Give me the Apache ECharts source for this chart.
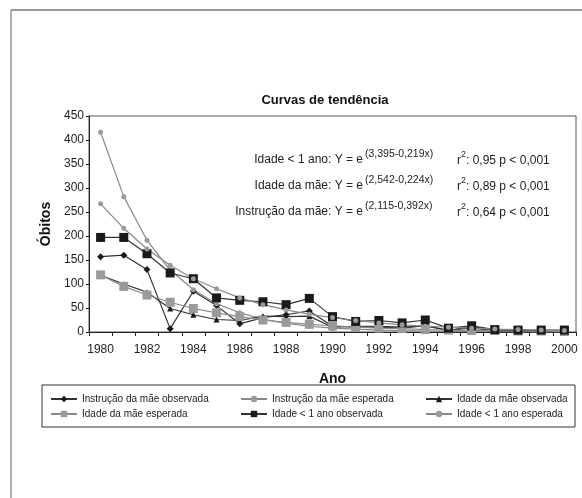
<!DOCTYPE html>
<html>
<head>
<meta charset="utf-8">
<script src="https://cdn.jsdelivr.net/npm/echarts@6/dist/echarts.min.js"></script>
<style>
  html, body { margin: 0; padding: 0; background: #fff; }
  #chart { width: 582px; height: 498px; }
</style>
</head>
<body>
<div id="chart"></div>
<script>
const anos = ["1980", "1981", "1982", "1983", "1984", "1985", "1986", "1987", "1988", "1989", "1990",
  "1991", "1992", "1993", "1994", "1995", "1996", "1997", "1998", "1999", "2000"]

const instrucaoObservada = [157, 160, 130, 7, 85, 55, 17, 30, 36, 44, 12, 10, 10, 8, 14, 3, 12, 3, 2, 2, 2]
const instrucaoEsperada = [416, 282, 191, 129, 88, 59, 40, 27, 18, 12, 8, 6, 4, 3, 2, 1, 1, 1, 0, 0, 0]
const idadeMaeObservada = [118, 100, 83, 49, 36, 26, 24, 33, 32, 33, 10, 12, 12, 10, 12, 4, 8, 3, 2, 2, 2]
const idadeMaeEsperada = [119, 95, 77, 62, 49, 40, 32, 25, 20, 16, 13, 10, 8, 7, 5, 4, 3, 3, 2, 2, 1]
const idadeAnoObservada = [197, 197, 163, 123, 111, 71, 66, 63, 57, 70, 32, 22, 24, 19, 25, 8, 13, 5, 4, 4, 4]
const idadeAnoEsperada = [267, 216, 173, 139, 111, 90, 71, 57, 46, 37, 30, 24, 19, 15, 12, 10, 8, 6, 5, 4, 3]

const yTicks = { min: 0, max: 450, interval: 50 }

const font = "'Liberation Sans', Arial, sans-serif"
const escuro = "#1a1a1a"
const cinza = "#9a9a9a"

const serie = (name, data, symbol, size, cor, linha) => ({
  name,
  type: "line",
  data,
  symbol,
  symbolSize: size,
  itemStyle: { color: cor },
  lineStyle: { color: linha, width: 1.2 },
  emphasis: { disabled: true },
  animation: false
})

const legenda = (left, names) => ({
  orient: "vertical",
  left,
  top: 389,
  itemGap: 5,
  itemWidth: 26,
  itemHeight: 8,
  data: names,
  textStyle: { fontFamily: font, fontSize: 10, color: "#222" }
})

const linhaEq = (y, txt, sup, r2) => [
  { type: "text", x: 363, y, style: { text: txt, font: "12px " + font, fill: "#222", textAlign: "right", textVerticalAlign: "middle" } },
  { type: "text", x: 365, y: y - 6, style: { text: sup, font: "10.5px " + font, fill: "#222", textAlign: "left", textVerticalAlign: "middle" } },
  { type: "text", x: 457, y: y + 1, style: { text: "r", font: "12px " + font, fill: "#222", textAlign: "left", textVerticalAlign: "middle" } },
  { type: "text", x: 461, y: y - 5, style: { text: "2", font: "9px " + font, fill: "#222", textAlign: "left", textVerticalAlign: "middle" } },
  { type: "text", x: 466, y: y + 1, style: { text: r2, font: "12px " + font, fill: "#222", textAlign: "left", textVerticalAlign: "middle" } }
]

const chart = echarts.init(document.getElementById("chart"))
chart.setOption({
  backgroundColor: "#fff",
  animation: false,
  title: {
    text: "Curvas de tendência",
    left: 320,
    top: 89,
    textAlign: "center",
    textStyle: { fontFamily: font, fontSize: 13, fontWeight: "bold", color: "#111" }
  },
  grid: {
    left: 89,
    top: 116,
    right: 6,
    bottom: 166,
    show: true,
    borderColor: "#555",
    borderWidth: 1
  },
  legend: [
    legenda(45, ["Instrução da mãe observada", "Idade da mãe esperada"]),
    legenda(235, ["Instrução da mãe esperada", "Idade < 1 ano observada"]),
    legenda(420, ["Idade da mãe observada", "Idade < 1 ano esperada"])
  ],
  xAxis: {
    type: "category",
    data: anos,
    boundaryGap: true,
    name: "Ano",
    nameLocation: "middle",
    nameGap: 40,
    nameTextStyle: { fontFamily: font, fontSize: 14, fontWeight: "bold", color: "#111" },
    axisLine: { lineStyle: { color: "#222", width: 1 } },
    axisTick: { show: true, interval: 0, length: 4, lineStyle: { color: "#222" } },
    axisLabel: { interval: 1, margin: 12, fontFamily: font, fontSize: 12, color: "#222" },
    splitLine: { show: false }
  },
  yAxis: {
    type: "value",
    min: yTicks.min,
    max: yTicks.max,
    interval: yTicks.interval,
    name: "Óbitos",
    nameLocation: "middle",
    nameGap: 28,
    nameRotate: 90,
    nameTextStyle: { fontFamily: font, fontSize: 14, fontWeight: "bold", color: "#111" },
    axisLine: { show: true, lineStyle: { color: "#222", width: 1 } },
    axisTick: { show: true, length: 3, lineStyle: { color: "#222" } },
    axisLabel: { margin: 5, fontFamily: font, fontSize: 12, color: "#222" },
    splitLine: { show: false }
  },
  series: [
    serie("Instrução da mãe observada", instrucaoObservada, "diamond", 7, escuro, "#333"),
    serie("Instrução da mãe esperada", instrucaoEsperada, "circle", 5, cinza, "#888"),
    serie("Idade da mãe observada", idadeMaeObservada, "triangle", 6, escuro, "#333"),
    serie("Idade da mãe esperada", idadeMaeEsperada, "rect", 9, cinza, "#888"),
    serie("Idade < 1 ano observada", idadeAnoObservada, "rect", 9, escuro, "#333"),
    serie("Idade < 1 ano esperada", idadeAnoEsperada, "circle", 5, cinza, "#888")
  ],
  graphic: [
    { type: "line", shape: { x1: 11, y1: 10, x2: 582, y2: 10 }, style: { stroke: "#777", lineWidth: 1.5 } },
    { type: "line", shape: { x1: 11, y1: 10, x2: 11, y2: 498 }, style: { stroke: "#999", lineWidth: 1.5 } },
    { type: "rect", shape: { x: 42, y: 385, width: 533, height: 42 }, style: { fill: "none", stroke: "#333", lineWidth: 1 } },
    ...linhaEq(160, "Idade < 1 ano: Y = e", "(3,395-0,219x)", ": 0,95 p < 0,001"),
    ...linhaEq(186, "Idade da mãe: Y = e", "(2,542-0,224x)", ": 0,89 p < 0,001"),
    ...linhaEq(212, "Instrução da mãe: Y = e", "(2,115-0,392x)", ": 0,64 p < 0,001")
  ]
})
</script>
</body>
</html>
